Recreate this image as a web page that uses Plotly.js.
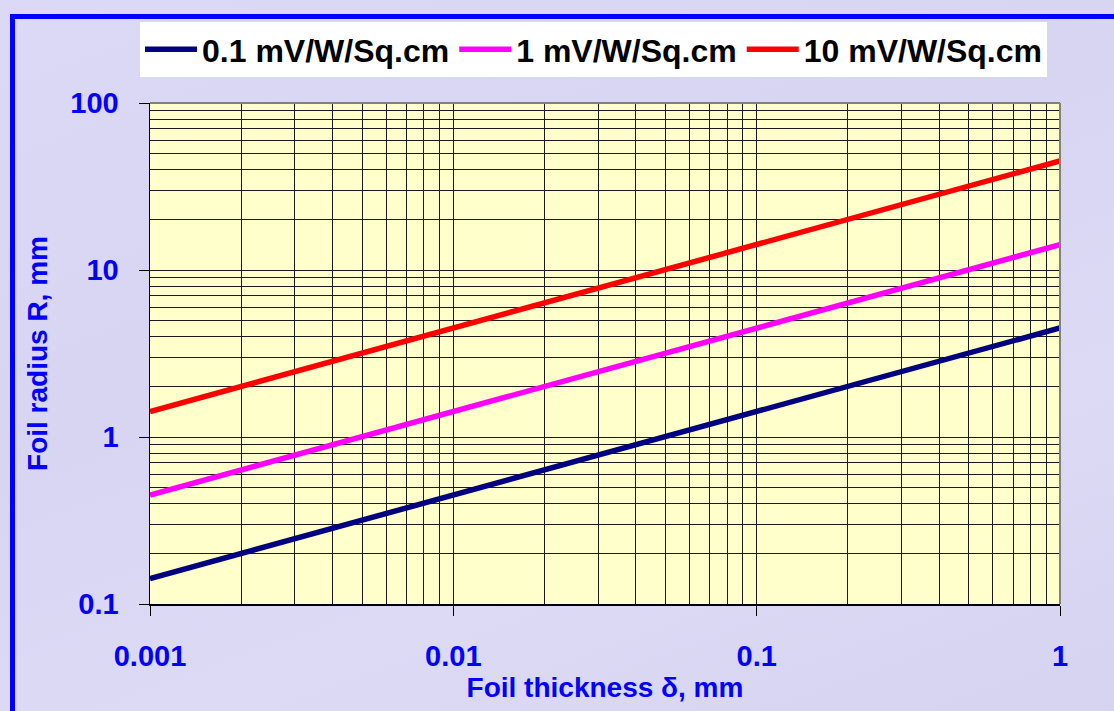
<!DOCTYPE html>
<html>
<head>
<meta charset="utf-8">
<script src="https://cdn.plot.ly/plotly-3.0.1.min.js"></script>
<style>
  html, body { margin: 0; padding: 0; }
  body { width: 1114px; height: 711px; overflow: hidden;
         background: linear-gradient(160deg, #dcd9f6 0%, #d8d5f2 40%, #dddaf6 70%, #d6d3f0 100%); position: relative; }
  #frame { position: absolute; left: 10px; top: 14px; width: 1200px; height: 800px;
           border-left: 5px solid #0000ff; border-top: 5px solid #0000ff; }
  #chart { position: absolute; left: 0; top: 0; width: 1114px; height: 711px; }
</style>
</head>
<body>
<div id="frame"></div>
<div id="chart"></div>
<script>
// Foil thickness δ, mm
const thickness = [0.001, 0.0015, 0.002, 0.003, 0.004, 0.005, 0.006, 0.007, 0.008, 0.009,
                   0.01, 0.015, 0.02, 0.03, 0.04, 0.05, 0.06, 0.07, 0.08, 0.09,
                   0.1, 0.15, 0.2, 0.3, 0.4, 0.5, 0.6, 0.7, 0.8, 0.9, 1];
// Foil radius R, mm for each sensitivity
const r01 = [0.142, 0.174, 0.201, 0.246, 0.285, 0.318, 0.348, 0.376, 0.402, 0.427,
             0.45, 0.551, 0.636, 0.779, 0.90, 1.006, 1.10, 1.19, 1.27, 1.35,
             1.42, 1.74, 2.01, 2.46, 2.85, 3.18, 3.49, 3.76, 4.02, 4.27, 4.5];
const r1  = [0.449, 0.55, 0.636, 0.778, 0.90, 1.006, 1.10, 1.19, 1.27, 1.35,
             1.42, 1.74, 2.01, 2.46, 2.85, 3.18, 3.49, 3.76, 4.02, 4.27,
             4.5, 5.5, 6.36, 7.79, 9.0, 10.06, 11.0, 11.9, 12.7, 13.5, 14.2];
const r10 = [1.42, 1.74, 2.01, 2.46, 2.85, 3.18, 3.49, 3.76, 4.02, 4.27,
             4.5, 5.51, 6.36, 7.79, 9.0, 10.06, 11.0, 11.9, 12.7, 13.5,
             14.2, 17.4, 20.1, 24.6, 28.5, 31.8, 34.9, 37.6, 40.2, 42.7, 45];
const seriesNames = ['0.1 mV/W/Sq.cm', '1 mV/W/Sq.cm', '10 mV/W/Sq.cm'];
const seriesColors = ['#000080', '#ff00ff', '#ff0000'];
const seriesValues = [r01, r1, r10];

const traces = seriesValues.map((vals, i) => ({
  x: thickness, y: vals, type: 'scatter', mode: 'lines',
  name: seriesNames[i],
  line: {color: seriesColors[i], width: 5.5}
}));

const fontFam = '"Liberation Sans", Arial, sans-serif';
const layout = {
  width: 1114, height: 711,
  paper_bgcolor: 'rgba(0,0,0,0)',
  plot_bgcolor: '#ffffcc',
  margin: {l: 150, r: 54, t: 103, b: 107},
  showlegend: true,
  legend: {
    orientation: 'h', xref: 'container', yref: 'container',
    x: 0.1257, xanchor: 'left', y: 0.969, yanchor: 'top',
    bgcolor: '#ffffff', borderwidth: 0,
    font: {family: fontFam, size: 32, color: '#000000', weight: 'bold'},
    itemwidth: 52,
    tracegroupgap: 0
  },
  xaxis: {
    type: 'log', range: [-3, 0],
    tickmode: 'linear', tick0: 0, dtick: 1, exponentformat: 'none',
    showgrid: true, gridcolor: '#1a1a1a', gridwidth: 1,
    minor: {dtick: 'D1', showgrid: true, gridcolor: '#1a1a1a', gridwidth: 1, ticks: ''},
    ticks: 'outside', ticklen: 10, tickcolor: '#000', tickwidth: 1,
    showline: true, linecolor: '#000', linewidth: 1.5,
    ticklabelstandoff: 16,
    tickfont: {family: fontFam, size: 29, color: '#0000ff', weight: 'bold'},
    title: {text: 'Foil thickness δ, mm', standoff: 6,
            font: {family: fontFam, size: 28, color: '#0000ff', weight: 'bold'}},
    zeroline: false
  },
  yaxis: {
    type: 'log', range: [-1, 2],
    tickmode: 'linear', tick0: 0, dtick: 1, exponentformat: 'none',
    showgrid: true, gridcolor: '#1a1a1a', gridwidth: 1,
    minor: {dtick: 'D1', showgrid: true, gridcolor: '#1a1a1a', gridwidth: 1, ticks: ''},
    ticks: 'outside', ticklen: 10, tickcolor: '#000', tickwidth: 1,
    showline: true, linecolor: '#000', linewidth: 1.5,
    ticklabelstandoff: 14,
    tickfont: {family: fontFam, size: 29, color: '#0000ff', weight: 'bold'},
    title: {text: 'Foil radius R, mm', standoff: 14,
            font: {family: fontFam, size: 28, color: '#0000ff', weight: 'bold'}},
    zeroline: false
  },
  shapes: [
    {type: 'line', xref: 'paper', yref: 'paper', x0: 0, x1: 1, y0: 1, y1: 1,
     line: {color: '#808080', width: 2}, layer: 'above'},
    {type: 'line', xref: 'paper', yref: 'paper', x0: 1, x1: 1, y0: 0, y1: 1,
     line: {color: '#808080', width: 2}, layer: 'above'}
  ]
};

Plotly.newPlot('chart', traces, layout, {displayModeBar: false, staticPlot: true});
</script>
</body>
</html>
